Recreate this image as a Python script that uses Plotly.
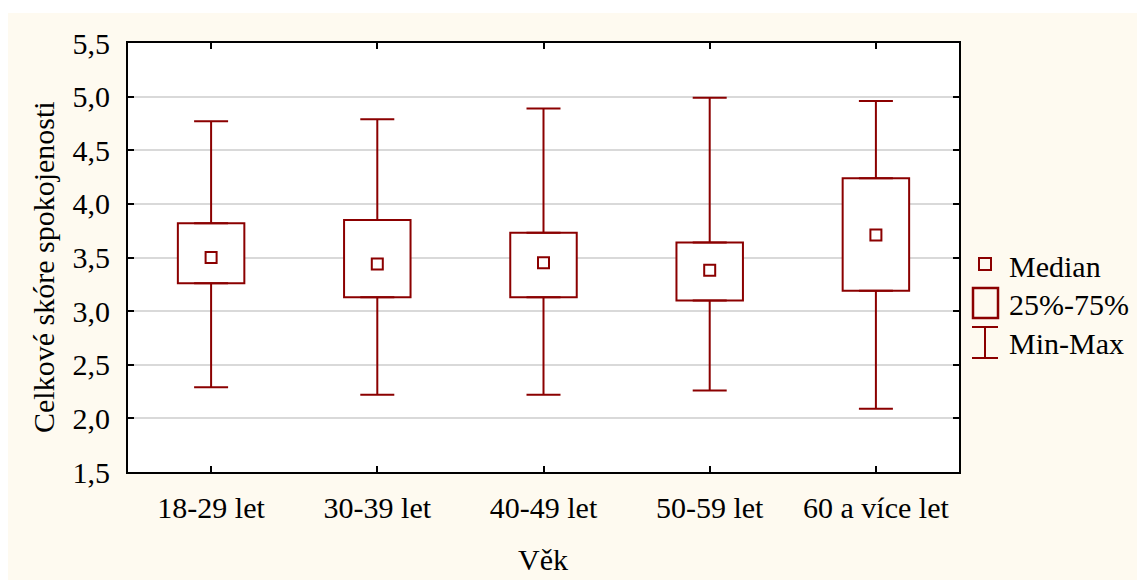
import plotly.graph_objects as go

categories = ["18-29 let", "30-39 let", "40-49 let", "50-59 let", "60 a více let"]
minimum = [2.29, 2.22, 2.22, 2.26, 2.09]
q1 = [3.26, 3.13, 3.13, 3.10, 3.19]
median = [3.50, 3.44, 3.45, 3.38, 3.71]
q3 = [3.82, 3.85, 3.73, 3.64, 4.24]
maximum = [4.77, 4.79, 4.89, 4.99, 4.96]
y_ticks = [1.5, 2.0, 2.5, 3.0, 3.5, 4.0, 4.5, 5.0, 5.5]

RED = "#8B0000"
CREAM = "#FEFAF0"
FONT = "Liberation Serif, Times New Roman, serif"
FS = 30

# figure is placed at (8, 8) in the page (body margin)
W, H = 1137, 572
L, R, T, B = 120, 186, 35, 108
# plot area in screen pixels
SX0, SX1, SY0, SY1 = 128, 959, 43, 472


def px(x):
    return (x - SX0) / (SX1 - SX0)


def py(y):
    return (SY1 - y) / (SY1 - SY0)


fig = go.Figure()

# lower whiskers
fig.add_trace(go.Scatter(
    x=categories, y=q1, mode="markers", marker=dict(size=1, opacity=0),
    error_y=dict(type="data", symmetric=False,
                 array=[0] * len(q1),
                 arrayminus=[a - b for a, b in zip(q1, minimum)],
                 color=RED, thickness=2, width=17),
    showlegend=False, hoverinfo="skip"))
# upper whiskers
fig.add_trace(go.Scatter(
    x=categories, y=q3, mode="markers", marker=dict(size=1, opacity=0),
    error_y=dict(type="data", symmetric=False,
                 array=[a - b for a, b in zip(maximum, q3)],
                 arrayminus=[0] * len(q3),
                 color=RED, thickness=2, width=17),
    showlegend=False, hoverinfo="skip"))
# boxes
fig.add_trace(go.Bar(
    x=categories, y=[a - b for a, b in zip(q3, q1)], base=q1, width=0.4,
    marker=dict(color="white", line=dict(color=RED, width=2)),
    showlegend=False, hoverinfo="skip"))
# medians
fig.add_trace(go.Scatter(
    x=categories, y=median, mode="markers",
    marker=dict(symbol="square-open", size=11, color=RED, line=dict(width=2, color=RED)),
    showlegend=False, hoverinfo="skip"))

shapes = []
# white strip at top
shapes.append(dict(type="rect", xref="paper", yref="paper", x0=px(0), x1=px(1200), y0=py(13), y1=py(0),
                   fillcolor="white", line=dict(width=0), layer="above"))
# legend glyphs
shapes.append(dict(type="rect", xref="paper", yref="paper", x0=px(979), x1=px(991), y0=py(270), y1=py(258),
                   line=dict(color=RED, width=2)))
shapes.append(dict(type="rect", xref="paper", yref="paper", x0=px(973), x1=px(998), y0=py(318), y1=py(288),
                   line=dict(color=RED, width=2.5)))
shapes.append(dict(type="line", xref="paper", yref="paper", x0=px(972), x1=px(998), y0=py(327), y1=py(327),
                   line=dict(color=RED, width=2)))
shapes.append(dict(type="line", xref="paper", yref="paper", x0=px(972), x1=px(998), y0=py(358), y1=py(358),
                   line=dict(color=RED, width=2)))
shapes.append(dict(type="line", xref="paper", yref="paper", x0=px(985), x1=px(985), y0=py(358), y1=py(327),
                   line=dict(color=RED, width=2)))

annotations = []
for label, yy in [("Median", 266), ("25%-75%", 304), ("Min-Max", 343)]:
    annotations.append(dict(text=label, xref="paper", yref="paper", x=px(1007), y=py(yy),
                            xanchor="left", yanchor="middle", showarrow=False,
                            font=dict(family=FONT, size=FS, color="black")))
annotations.append(dict(text="Celkové skóre spokojenosti", xref="paper", yref="paper",
                        x=px(43), y=py(267), textangle=-90, xanchor="center", yanchor="middle",
                        showarrow=False, font=dict(family=FONT, size=FS, color="black")))
annotations.append(dict(text="Věk", xref="paper", yref="paper",
                        x=px(543), y=py(559), xanchor="center", yanchor="middle",
                        showarrow=False, font=dict(family=FONT, size=FS, color="black")))

fig.update_layout(
    width=W, height=H,
    margin=dict(l=L, r=R, t=T, b=B),
    paper_bgcolor=CREAM, plot_bgcolor="white",
    separators=", ",
    barmode="overlay",
    font=dict(family=FONT, size=FS, color="black"),
    shapes=shapes, annotations=annotations,
    showlegend=False,
)
fig.update_xaxes(
    type="category", range=[-0.5, 4.5], showgrid=False, zeroline=False,
    showline=True, linecolor="black", linewidth=2, mirror="ticks",
    ticks="inside", ticklen=6, tickwidth=2, tickcolor="black",
    ticklabelstandoff=8, tickfont=dict(family=FONT, size=FS),
)
fig.update_yaxes(
    range=[1.5, 5.5], tickvals=y_ticks, tickformat=".1f",
    showgrid=True, gridcolor="#D9D9D9", gridwidth=2, zeroline=False,
    showline=True, linecolor="black", linewidth=2, mirror="ticks",
    ticks="inside", ticklen=6, tickwidth=2, tickcolor="black",
    ticklabelstandoff=10, tickfont=dict(family=FONT, size=FS),
)

fig.write_html("out.html")
